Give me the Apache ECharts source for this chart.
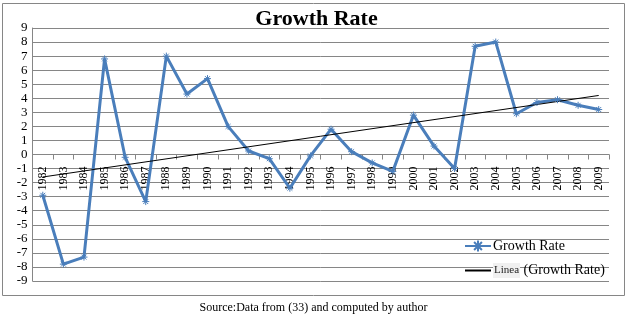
<!DOCTYPE html>
<html><head><meta charset="utf-8">
<script src="https://cdn.jsdelivr.net/npm/echarts@6/dist/echarts.min.js"></script>
<style>html,body{margin:0;padding:0;background:#fff}#c{width:627px;height:317px}</style>
</head><body><div id="c"></div>
<script>
const years = ['1982','1983','1984','1985','1986','1987','1988','1989','1990','1991','1992','1993','1994','1995','1996','1997','1998','1999','2000','2001','2002','2003','2004','2005','2006','2007','2008','2009'];
const growthRate = [-2.9,-7.8,-7.3,6.8,-0.2,-3.35,7.0,4.3,5.4,2.0,0.25,-0.3,-2.4,-0.1,1.8,0.2,-0.6,-1.2,2.8,0.6,-1.0,7.7,8.0,2.9,3.7,3.9,3.5,3.2];
const trendStart = -1.6;
const trendEnd = 4.2;
const trend = years.map((y,i)=> i===0 ? trendStart : (i===years.length-1 ? trendEnd : null));
const serif = '"Liberation Serif","Times New Roman",serif';
const chart = echarts.init(document.getElementById('c'), null, {renderer:'canvas'});
const star = 'path://M0,5 L10,5 M5,0 L5,10 M1.5,1.5 L8.5,8.5 M8.5,1.5 L1.5,8.5';
chart.setOption({
  animation:false,
  backgroundColor:'#fff',
  grid:{left:32.5,top:28,width:576.5,height:253,containLabel:false,outerBoundsMode:'none'},
  legend:{orient:'vertical',left:464,top:239,padding:0,itemGap:10,itemWidth:26,itemHeight:14,
    textStyle:{fontFamily:serif,fontSize:14,color:'#000',padding:[0,0,0,-3],
      rich:{a:{fontFamily:serif,fontSize:11,color:'#222',backgroundColor:'#f0f0f0',padding:[2,1,2,1]}}},
    formatter:function(n){return n==='Linea (Growth Rate)' ? '{a|Linea} (Growth Rate)' : n;},
    data:['Growth Rate',{name:'Linea (Growth Rate)',itemStyle:{opacity:0}}]},
  xAxis:{type:'category',data:years,boundaryGap:true,offset:-126.5,
    axisLine:{onZero:false,lineStyle:{color:'#868686',width:1}},
    axisTick:{show:true,length:5,lineStyle:{color:'#868686'},alignWithLabel:false},
    axisLabel:{rotate:90,margin:12,fontFamily:serif,fontSize:12,color:'#000',interval:0},
    splitLine:{show:false}},
  yAxis:{type:'value',min:-9,max:9,interval:1,
    axisLine:{show:true,lineStyle:{color:'#868686'}},
    axisTick:{show:false},
    axisLabel:{margin:5,fontFamily:serif,fontSize:13,color:'#000'},
    splitLine:{show:true,lineStyle:{color:'#868686',width:1}}},
  series:[
    {name:'Growth Rate',type:'line',data:growthRate,symbol:star,symbolSize:7,
      lineStyle:{color:'#4A7EBB',width:3},
      itemStyle:{color:'#4A7EBB',borderColor:'#4A7EBB',borderWidth:1}},
    {name:'Linea (Growth Rate)',type:'line',data:trend,connectNulls:true,symbol:'none',
      lineStyle:{color:'#000',width:1},itemStyle:{color:'#000'}}
  ],
  graphic:[
    {type:'rect',shape:{x:2.5,y:3.5,width:622,height:292},style:{fill:null,stroke:'#868686',lineWidth:1},silent:true,z:-1},
    {type:'text',x:316.5,y:19,style:{text:'Growth Rate',font:'bold 22px '+serif,fill:'#000',textAlign:'center',textVerticalAlign:'middle'}},
    {type:'text',x:313.5,y:308,style:{text:'Source:Data from (33) and computed by author',font:'12px '+serif,fill:'#000',textAlign:'center',textVerticalAlign:'middle'}}
  ]
});
</script></body></html>
